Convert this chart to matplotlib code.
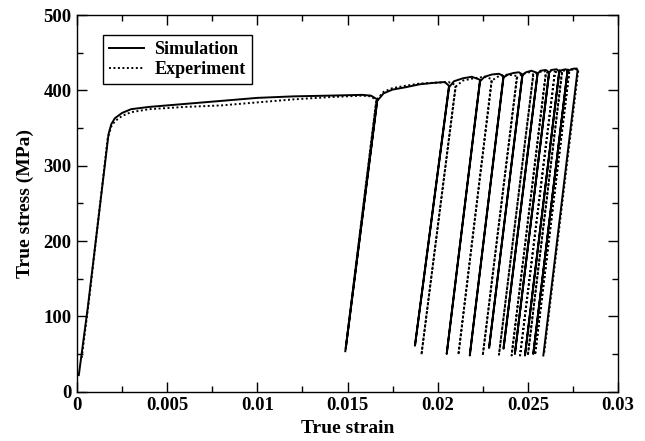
"""
Cyclic tensile test: true stress vs true strain, simulation against experiment.
"""

import matplotlib
matplotlib.use('Agg')
import matplotlib.pyplot as plt

plt.rcParams.update({
    'font.family': 'Liberation Serif',
    'font.weight': 'bold',
    'font.size': 13.5,
    'axes.labelweight': 'bold',
})

# Simulation: monotonic part, then for each cycle peak -> bottom -> next hump
sim_strain = [
    0.0001, 0.0006, 0.0012, 0.00175, 0.0019, 0.0021, 0.0025, 0.003, 0.004,
    0.006, 0.008, 0.010, 0.012, 0.014, 0.0158, 0.0163, 0.01665,
    0.0149,
    0.01665, 0.0170, 0.0175, 0.0182, 0.0190, 0.0198, 0.0204, 0.02063,
    0.01874,
    0.02063, 0.0209, 0.0214, 0.0219, 0.02235,
    0.0205,
    0.02235, 0.0226, 0.0230, 0.0234, 0.02365,
    0.02178,
    0.02365, 0.0239, 0.0242, 0.0245, 0.0247,
    0.02285,
    0.0247, 0.0249, 0.0252, 0.02554,
    0.02365,
    0.02554, 0.0257, 0.0260, 0.02618,
    0.02428,
    0.02618, 0.0263, 0.0266, 0.02674,
    0.02484,
    0.02674, 0.0269, 0.0271, 0.0272,
    0.0253,
    0.0272, 0.0274, 0.0276, 0.02776,
    0.02586,
]
sim_stress = [
    22, 112, 232, 342, 355, 363, 370, 375, 378,
    382, 386, 390, 392, 393, 394, 393, 388,
    57,
    386, 396, 401, 404, 408, 410, 411, 406,
    61,
    404, 412, 416, 418, 414,
    50,
    412, 418, 421, 422, 419,
    48,
    417, 421, 423, 424, 421,
    58,
    420, 424, 426, 423,
    57,
    422, 426, 427, 424,
    50,
    423, 427, 428, 425,
    48,
    424, 427, 428, 426,
    50,
    425, 428, 429, 427,
    48,
]

exp_strain = [
    0.00026, 0.0007, 0.0012, 0.0017, 0.0019, 0.0021,
    0.0025, 0.003, 0.004, 0.006, 0.008, 0.010, 0.012, 0.014, 0.0158, 0.0163,
    0.0166,
    0.01487,
    0.0166, 0.0170, 0.0175, 0.0182, 0.0190, 0.0198, 0.0206, 0.0210,
    0.0191,
    0.0210, 0.0214, 0.0220, 0.0226, 0.0230,
    0.02115,
    0.0230, 0.0234, 0.0239, 0.0244,
    0.0225,
    0.0244, 0.0247, 0.0251, 0.0253,
    0.0234,
    0.0253, 0.0256, 0.0259, 0.0260,
    0.0241,
    0.0260, 0.0262, 0.0264, 0.0265,
    0.02457,
    0.0265, 0.0267, 0.0269,
    0.0250,
    0.0269, 0.0271, 0.0273,
    0.0254,
    0.0273, 0.0275, 0.02772, 0.0278,
    0.0259,
]
exp_stress = [
    45, 128, 233, 336, 352, 359,
    366, 371, 375, 378, 380, 384, 388, 391, 393, 392,
    387,
    52,
    387, 398, 403, 406, 409, 410, 411, 407,
    49,
    405, 413, 416, 418, 415,
    49,
    413, 419, 421, 419,
    48,
    417, 422, 424, 421,
    49,
    420, 424, 426, 424,
    48,
    422, 426, 427, 425,
    48,
    423, 427, 426,
    48,
    424, 428, 427,
    49,
    425, 428, 429, 427,
    50,
]

x_ticks = [0, 0.005, 0.01, 0.015, 0.02, 0.025, 0.03]
x_tick_labels = ['0', '0.005', '0.01', '0.015', '0.02', '0.025', '0.03']
y_ticks = [0, 100, 200, 300, 400, 500]

fig = plt.figure(figsize=(6.45, 4.41), dpi=100)
ax = fig.add_axes([77 / 645, 49.3 / 441, 541 / 645, 376.7 / 441])

ax.plot(sim_strain, sim_stress, '-', color='black', lw=1.4, label='Simulation')
ax.plot(exp_strain, exp_stress, color='black', lw=1.4, ls=(0, (1, 1.3)),
        label='Experiment')

ax.set_xlim(0, 0.03)
ax.set_ylim(0, 500)
ax.set_xticks(x_ticks)
ax.set_xticklabels(x_tick_labels)
ax.set_yticks(y_ticks)
ax.set_xticks([0.0025, 0.0075, 0.0125, 0.0175, 0.0225, 0.0275], minor=True)
ax.set_yticks([50, 150, 250, 350, 450], minor=True)
ax.tick_params(which='both', direction='in', top=True, right=True, width=1.0)
ax.tick_params(which='major', length=7.5, pad=4)
ax.tick_params(which='minor', length=4)
for s in ax.spines.values():
    s.set_linewidth(1.0)

ax.set_xlabel('True strain', fontsize=14, labelpad=4)
ax.set_ylabel('True stress (MPa)', fontsize=14, labelpad=7)

leg = ax.legend(loc='upper left', bbox_to_anchor=(0.048, 0.947),
                borderaxespad=0, fontsize=13, fancybox=False, framealpha=1,
                edgecolor='black', handlelength=1.9, handletextpad=0.6,
                borderpad=0.35, labelspacing=0.15)
leg.get_frame().set_linewidth(1.0)

fig.savefig('out.png', dpi=100)
